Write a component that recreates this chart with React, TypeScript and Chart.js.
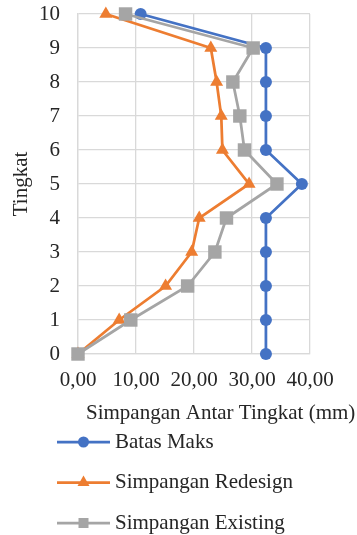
import React, { useEffect, useRef } from 'react';
import { Chart, registerables } from 'chart.js';

Chart.register(...registerables);

const levels = [0, 1, 2, 3, 4, 5, 6, 7, 8, 9, 10];
const batasMaks = [32.4, 32.4, 32.4, 32.4, 32.4, 38.6, 32.4, 32.4, 32.4, 32.4, 10.8];
const redesign = [0, 7.1, 15.1, 19.6, 20.9, 29.5, 24.9, 24.7, 23.9, 22.9, 4.8];
const existing = [0, 9.1, 18.9, 23.6, 25.6, 34.3, 28.7, 27.9, 26.7, 30.2, 8.2];
const seriesLabels = ['Batas Maks', 'Simpangan Redesign', 'Simpangan Existing'];
const xTitle = 'Simpangan Antar Tingkat (mm)';
const yTitle = 'Tingkat';

const FONT = "'Liberation Serif', 'Times New Roman', serif";
const TEXT = '#262626';
const GRID = '#d9d9d9';

function drawMarker(ctx: CanvasRenderingContext2D, style: string, x: number, y: number, r: number) {
  ctx.beginPath();
  if (style === 'circle') {
    ctx.arc(x, y, r, 0, Math.PI * 2);
  } else if (style === 'rect') {
    ctx.rect(x - r, y - r, 2 * r, 2 * r);
  } else {
    ctx.moveTo(x, y - r * 1.15);
    ctx.lineTo(x + r, y + r * 0.6);
    ctx.lineTo(x - r, y + r * 0.6);
    ctx.closePath();
  }
  ctx.fill();
}

const extrasPlugin = {
  id: 'extras',
  afterDraw(chart: any) {
    const ctx: CanvasRenderingContext2D = chart.ctx;
    const area = chart.chartArea;
    ctx.save();
    ctx.font = `21px ${FONT}`;
    ctx.fillStyle = TEXT;
    ctx.textBaseline = 'middle';
    ctx.textAlign = 'left';
    ctx.fillText(xTitle, area.left + 8, area.bottom + 59);

    const ds = chart.data.datasets;
    const lx0 = 57, lx1 = 110, tx = 115;
    const ly0 = area.bottom + 88;
    const dy = 40.5;
    ds.forEach((d: any, i: number) => {
      const y = ly0 + i * dy;
      ctx.strokeStyle = d.borderColor;
      ctx.lineWidth = 2.75;
      ctx.beginPath();
      ctx.moveTo(lx0, y);
      ctx.lineTo(lx1, y);
      ctx.stroke();
      ctx.fillStyle = d.backgroundColor;
      const st = d.pointStyle;
      drawMarker(ctx, st, (lx0 + lx1) / 2, y, st === 'circle' ? 5.5 : st === 'rect' ? 5 : 6);
      ctx.fillStyle = TEXT;
      ctx.fillText(d.label, tx, y);
    });
    ctx.restore();
  },
};

export default function App() {
  const ref = useRef<HTMLCanvasElement | null>(null);
  useEffect(() => {
    if (!ref.current) return;
    const mk = (vals: number[]) => vals.map((v, i) => ({ x: v, y: levels[i] }));
    const chart = new Chart(ref.current, {
      type: 'scatter',
      data: {
        datasets: [
          {
            label: seriesLabels[0],
            data: mk(batasMaks),
            showLine: true,
            borderColor: '#4472C4',
            backgroundColor: '#4472C4',
            borderWidth: 2.75,
            pointStyle: 'circle',
            pointRadius: 6,
            pointBorderWidth: 0,
            clip: false,
            order: 2,
          },
          {
            label: seriesLabels[1],
            data: mk(redesign),
            showLine: true,
            borderColor: '#ED7D31',
            backgroundColor: '#ED7D31',
            borderWidth: 2.75,
            pointStyle: 'triangle',
            pointRadius: 7.5,
            pointBorderWidth: 0,
            clip: false,
            order: 1,
          },
          {
            label: seriesLabels[2],
            data: mk(existing),
            showLine: true,
            borderColor: '#A5A5A5',
            backgroundColor: '#A5A5A5',
            borderWidth: 2.75,
            pointStyle: 'rect',
            pointRadius: 9.5,
            pointBorderWidth: 0,
            clip: false,
            order: 0,
          },
        ],
      } as any,
      options: {
        responsive: false,
        animation: false,
        layout: { padding: { left: 0, top: 14, right: 47, bottom: 110 } },
        plugins: { legend: { display: false }, tooltip: { enabled: false } },
        scales: {
          x: {
            type: 'linear',
            min: 0,
            max: 40,
            ticks: {
              stepSize: 10,
              padding: 14,
              color: TEXT,
              font: { family: FONT, size: 21 },
              callback: (v: any) => Number(v).toFixed(2).replace('.', ','),
            },
            grid: { color: GRID, lineWidth: 1.3, drawTicks: false },
            border: { color: GRID, width: 1.3 },
            afterFit: (s: any) => { s.height = 71; s.paddingLeft = 0; s.paddingRight = 0; },
          },
          y: {
            type: 'linear',
            min: 0,
            max: 10,
            ticks: {
              stepSize: 1,
              padding: 18,
              color: TEXT,
              font: { family: FONT, size: 21 },
            },
            title: {
              display: true,
              text: yTitle,
              color: TEXT,
              font: { family: FONT, size: 21 },
              padding: { top: 9, bottom: 0 },
            },
            grid: { color: GRID, lineWidth: 1.3, drawTicks: false },
            border: { color: GRID, width: 1.3 },
            afterFit: (s: any) => { s.width = 78; s.paddingTop = 0; s.paddingBottom = 0; },
          },
        },
      } as any,
      plugins: [extrasPlugin],
    });
    return () => chart.destroy();
  }, []);
  return (
    <div style={{ position: 'absolute', left: 0, top: 0, width: 357, height: 535, background: '#fff' }}>
      <canvas ref={ref} width={357} height={535} style={{ display: 'block' }} />
    </div>
  );
}
